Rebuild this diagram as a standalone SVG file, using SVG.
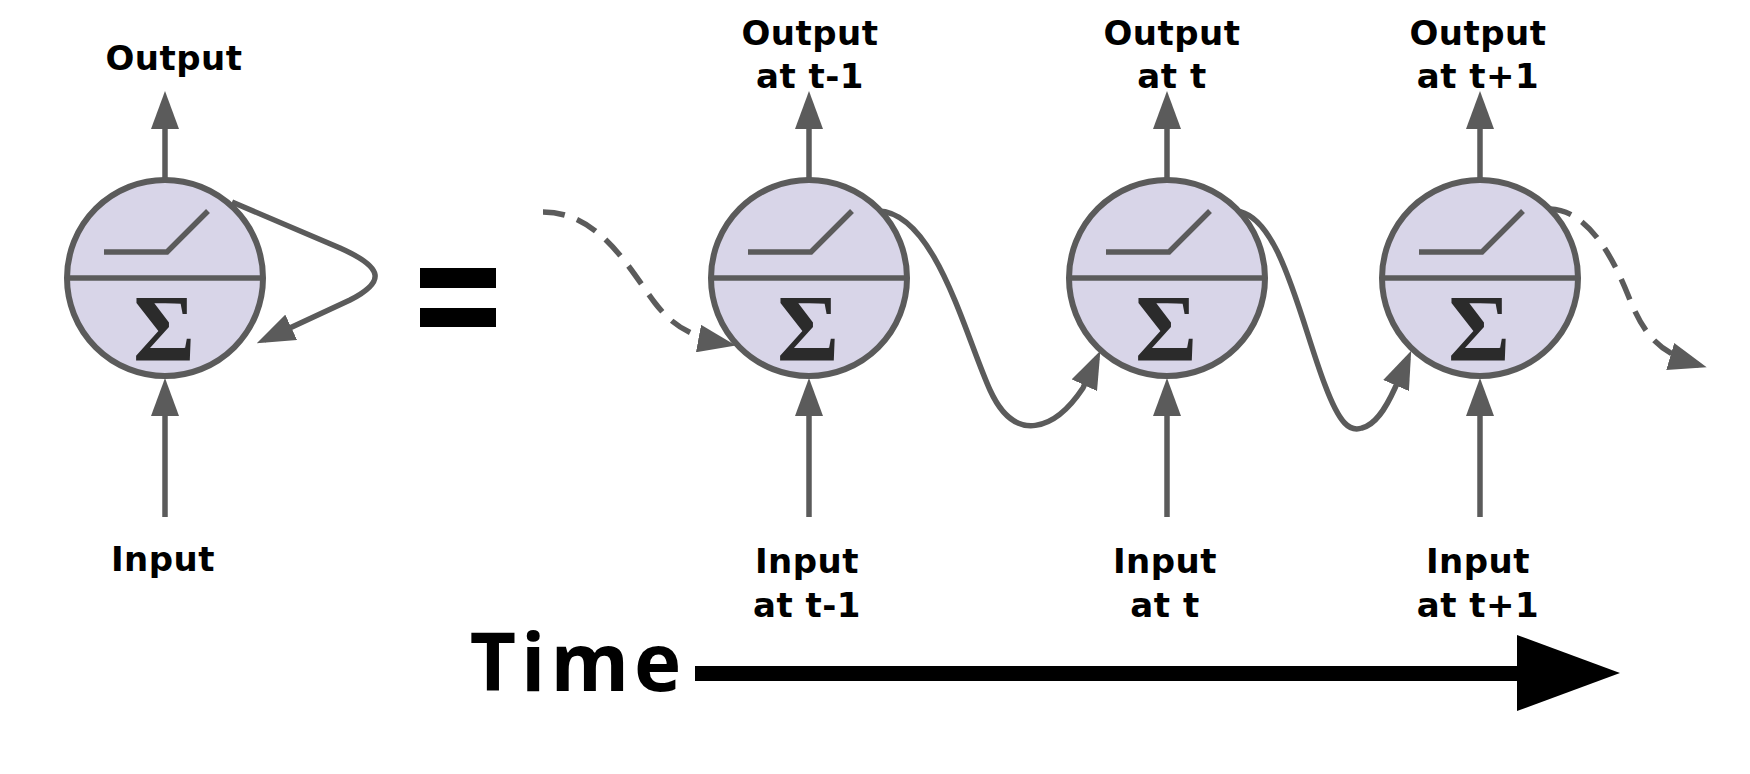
<svg xmlns="http://www.w3.org/2000/svg" width="1750" height="774" viewBox="0 0 1750 774">
<style>
.cell{fill:#d8d5e8;stroke:#5b5b5b;stroke-width:6}
.ln{fill:none;stroke:#5b5b5b;stroke-width:5.5}
.dash{fill:none;stroke:#5b5b5b;stroke-width:5.5;stroke-dasharray:22 13}
.sig{font-family:"Liberation Serif",serif;font-weight:700;font-size:95px;fill:#2b2b2b;text-anchor:middle}
.lbl{font-family:"DejaVu Sans",sans-serif;font-weight:700;font-size:34px;letter-spacing:0.5px;fill:#000;text-anchor:middle}
.time{font-family:"Open Sans",sans-serif;font-weight:700;font-size:80px;letter-spacing:5px;fill:#000;text-anchor:middle}
</style>
<defs>
<marker id="ah" markerUnits="userSpaceOnUse" viewBox="0 0 38 28" refX="30" refY="14" markerWidth="38" markerHeight="28" orient="auto">
<path d="M0,0 L38,14 L0,28 Z" fill="#5b5b5b" stroke="none"/>
</marker>
</defs>
<rect width="1750" height="774" fill="#fff"/>

<g id="connectors">
<path class="ln" d="M165,179 L165,99" marker-end="url(#ah)"/>
<path class="ln" d="M165,517 L165,386" marker-end="url(#ah)"/>
<path class="ln" d="M232,202 L340,248 C385,268 385,282 350,300 L264,340" marker-end="url(#ah)"/>
<path class="ln" d="M809,179 L809,99" marker-end="url(#ah)"/>
<path class="ln" d="M809,517 L809,386" marker-end="url(#ah)"/>
<path class="ln" d="M1167,179 L1167,99" marker-end="url(#ah)"/>
<path class="ln" d="M1167,517 L1167,386" marker-end="url(#ah)"/>
<path class="ln" d="M1480,179 L1480,99" marker-end="url(#ah)"/>
<path class="ln" d="M1480,517 L1480,386" marker-end="url(#ah)"/>
<path class="dash" d="M543,212 C600,212 630,270 655,303 C672,325 690,337 728,344" marker-end="url(#ah)"/>
<path class="ln" d="M878,211 C935,212 965,335 990,390 C1015,445 1055,430 1083,388 L1097,358" marker-end="url(#ah)"/>
<path class="ln" d="M1236,211 C1280,215 1300,320 1325,385 C1340,425 1350,432 1362,428 C1375,425 1385,410 1395,388 L1408,358" marker-end="url(#ah)"/>
<path class="dash" d="M1550,209 C1585,210 1610,250 1628,295 C1642,330 1655,352 1699,365" marker-end="url(#ah)"/>
</g>

<g id="cell-folded">
<circle class="cell" cx="165" cy="278" r="98"/>
<line class="ln" x1="67" y1="278" x2="263" y2="278"/>
<polyline class="ln" points="104,252 167,252 208,211"/>
<text class="sig" x="164" y="361">Σ</text>
</g>
<g id="cell-t-1">
<circle class="cell" cx="809" cy="278" r="98"/>
<line class="ln" x1="711" y1="278" x2="907" y2="278"/>
<polyline class="ln" points="748,252 811,252 852,211"/>
<text class="sig" x="808" y="361">Σ</text>
</g>
<g id="cell-t">
<circle class="cell" cx="1167" cy="278" r="98"/>
<line class="ln" x1="1069" y1="278" x2="1265" y2="278"/>
<polyline class="ln" points="1106,252 1169,252 1210,211"/>
<text class="sig" x="1166" y="361">Σ</text>
</g>
<g id="cell-t+1">
<circle class="cell" cx="1480" cy="278" r="98"/>
<line class="ln" x1="1382" y1="278" x2="1578" y2="278"/>
<polyline class="ln" points="1419,252 1482,252 1523,211"/>
<text class="sig" x="1479" y="361">Σ</text>
</g>

<g id="equals">
<rect x="420" y="268" width="76" height="20" fill="#000"/>
<rect x="420" y="308" width="76" height="19" fill="#000"/>
</g>

<g id="labels">
<text class="lbl" x="174" y="70">Output</text>
<text class="lbl" x="163" y="571">Input</text>
<text class="lbl"><tspan x="810" y="45">Output</tspan><tspan x="810" y="88">at t-1</tspan></text>
<text class="lbl"><tspan x="1172" y="45">Output</tspan><tspan x="1172" y="88">at t</tspan></text>
<text class="lbl"><tspan x="1478" y="45">Output</tspan><tspan x="1478" y="88">at t+1</tspan></text>
<text class="lbl"><tspan x="807" y="573">Input</tspan><tspan x="807" y="617">at t-1</tspan></text>
<text class="lbl"><tspan x="1165" y="573">Input</tspan><tspan x="1165" y="617">at t</tspan></text>
<text class="lbl"><tspan x="1478" y="573">Input</tspan><tspan x="1478" y="617">at t+1</tspan></text>
</g>

<g id="time-axis">
<text class="time" x="578" y="691">Time</text>
<rect x="695" y="666" width="824" height="15" fill="#000"/>
<polygon points="1517,635 1620,673 1517,711" fill="#000"/>
</g>
</svg>
